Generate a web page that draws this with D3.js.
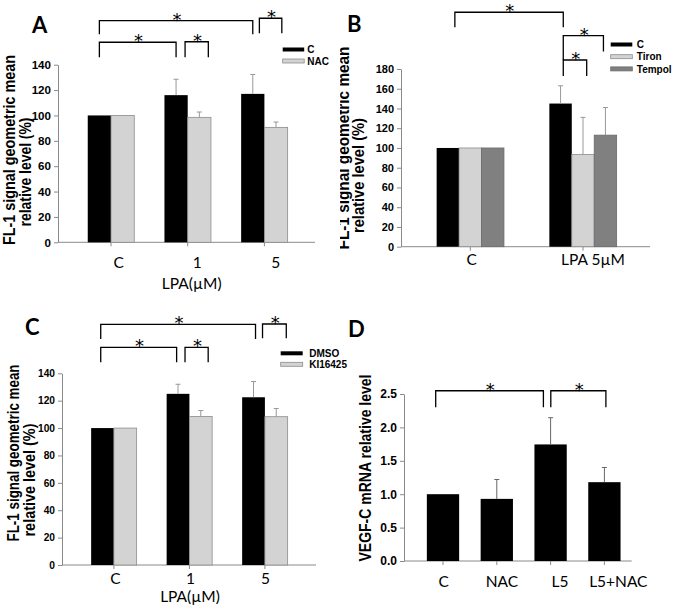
<!DOCTYPE html>
<html><head><meta charset="utf-8">
<script src="https://cdn.jsdelivr.net/npm/d3@7"></script>
<style>body{margin:0;background:#fff}svg{display:block}</style>
</head><body>
<svg id="chart" width="677" height="610"></svg>
<script>
// ---------- DATA ----------
const catsA = ["C", "1", "5"];
const seriesA = ["C", "NAC"];
const valsA_C = [100, 116, 117];
const errA_C = [0, 12.5, 15.3];
const valsA_NAC = [100, 98.5, 90.6];
const errA_NAC = [0, 4.2, 4.2];
const ticksA = [0, 20, 40, 60, 80, 100, 120, 140];

const catsB = ["C", "LPA 5\u00b5M"];
const seriesB = ["C", "Tiron", "Tempol"];
const valsB_C = [100, 145];
const errB_C = [0, 18];
const valsB_Tiron = [100, 93.5];
const errB_Tiron = [0, 37.5];
const valsB_Tempol = [100, 113];
const errB_Tempol = [0, 28];
const ticksB = [0, 20, 40, 60, 80, 100, 120, 140, 160, 180];

const catsC = ["C", "1", "5"];
const seriesC = ["DMSO", "KI16425"];
const valsC_DMSO = [100, 125, 122.5];
const errC_DMSO = [0, 7, 11.5];
const valsC_KI = [100, 108.5, 108.3];
const errC_KI = [0, 4.3, 6];
const ticksC = [0, 20, 40, 60, 80, 100, 120, 140];

const catsD = ["C", "NAC", "L5", "L5+NAC"];
const valsD = [1.0, 0.93, 1.745, 1.18];
const errD = [0, 0.29, 0.40, 0.22];
const ticksD = [0, 0.5, 1.0, 1.5, 2.0, 2.5];

// significance brackets: endpoints as [category, series], heights in data units
const sigA = [
  {a: ["C", "C"], b: ["5", "C"], top: 174.7, legA: 164, legB: 164, dx: [0, 0]},
  {a: ["5", "C"], b: ["5", "NAC"], top: 176.6, legA: 164.7, legB: 164.7, dx: [6.6, 5.8]},
  {a: ["C", "C"], b: ["1", "C"], top: 157.7, legA: 145.8, legB: 145.8, dx: [0, 0]},
  {a: ["1", "C"], b: ["1", "NAC"], top: 158.1, legA: 145.8, legB: 145.8, dx: [9, 9]}
];
const sigB = [
  {a: ["C", "C"], b: ["LPA 5\u00b5M", "C"], top: 237.5, legA: 222.3, legB: 222.3, dx: [7, 2.7]},
  {a: ["LPA 5\u00b5M", "C"], b: ["LPA 5\u00b5M", "Tempol"], top: 213.8, legA: 189.1, legB: 197.6, dx: [2.7, -2]},
  {a: ["LPA 5\u00b5M", "C"], b: ["LPA 5\u00b5M", "Tiron"], top: 189.1, legA: 172.9, legB: 172.9, dx: [2.7, 3.7]}
];
const sigC = [
  {a: ["C", "DMSO"], b: ["5", "DMSO"], top: 175.8, legA: 165, legB: 165, dx: [-1.8, 2]},
  {a: ["5", "DMSO"], b: ["5", "KI16425"], top: 176, legA: 165.6, legB: 165.6, dx: [9, 10]},
  {a: ["C", "DMSO"], b: ["1", "DMSO"], top: 159, legA: 148, legB: 148, dx: [-1.8, -1.4]},
  {a: ["1", "DMSO"], b: ["1", "KI16425"], top: 159, legA: 148, legB: 148, dx: [7, 7.4]}
];
const sigD = [
  {a: ["C", "v"], b: ["L5", "v"], top: 2.549, legA: 2.30, legB: 2.30, dx: [-7.3, -7.2]},
  {a: ["L5", "v"], b: ["L5+NAC", "v"], top: 2.549, legA: 2.30, legB: 2.30, dx: [0.2, 1.5]}
];

// ---------- DRAW ----------
const svg = d3.select("#chart");
svg.append("rect").attr("width", 677).attr("height", 610).attr("fill", "#fff");
svg.append("defs").append("clipPath").attr("id", "clipB")
  .append("rect").attr("x", 340).attr("y", 0).attr("width", 337).attr("height", 300);

const AXIS = "#8a8a8a";
const CAL = "Lato, 'Open Sans', sans-serif";
const ARI = "'Liberation Sans', Arial, sans-serif";

function panel(cfg) {
  const g = svg.append("g");
  if (cfg.clip) g.attr("clip-path", "url(#" + cfg.clip + ")");
  const y = d3.scaleLinear().domain(cfg.yDomain).range(cfg.yRange);
  const x = d3.scaleBand().domain(cfg.cats).range(cfg.xRange).padding(0);
  const xs = d3.scaleBand().domain(cfg.series.map(s => s.name))
    .range([-cfg.groupW / 2, cfg.groupW / 2]).padding(0);
  const cx = (cat, ser) => x(cat) + x.bandwidth() / 2 + xs(ser) + xs.bandwidth() / 2;

  // y axis
  const ya = g.append("g").attr("transform", `translate(${cfg.axisX},0)`)
    .call(d3.axisLeft(y).tickValues(cfg.ticks).tickSize(4).tickSizeOuter(0).tickPadding(3)
      .tickFormat(cfg.fmt));
  ya.select(".domain").attr("stroke", AXIS);
  ya.selectAll(".tick line").attr("stroke", AXIS);
  ya.selectAll(".tick text").attr("fill", "#000").style("font-family", ARI)
    .style("font-weight", "bold").style("font-size", cfg.tickFont + "px");

  // x axis
  const y0 = y(0);
  g.append("line").attr("x1", cfg.axisX).attr("x2", cfg.xEnd).attr("y1", y0).attr("y2", y0)
    .attr("stroke", AXIS).attr("stroke-width", 1);
  const xa = g.append("g").attr("transform", `translate(0,${y0})`)
    .call(d3.axisBottom(x).tickSize(4).tickSizeOuter(0).tickFormat(""));
  xa.select(".domain").remove();
  xa.selectAll(".tick line").attr("stroke", AXIS);

  // bars
  cfg.series.forEach(s => {
    const bars = g.append("g");
    bars.selectAll("rect").data(cfg.cats.map((c, i) => ({c, v: s.values[i]})))
      .join("rect")
      .attr("x", d => x(d.c) + x.bandwidth() / 2 + xs(s.name))
      .attr("width", xs.bandwidth())
      .attr("y", d => y(d.v)).attr("height", d => y0 - y(d.v))
      .attr("fill", s.color).attr("stroke", s.stroke || "none").attr("stroke-width", 0.8);
  });
  // error bars
  cfg.series.forEach(s => {
    cfg.cats.forEach((c, i) => {
      const e = s.errors[i];
      if (!e) return;
      const xc = cx(c, s.name);
      const yt = y(s.values[i] + e), yb = y(s.values[i]);
      g.append("line").attr("x1", xc).attr("x2", xc).attr("y1", yb).attr("y2", yt)
        .attr("stroke", cfg.errColor).attr("stroke-width", 1);
      g.append("line").attr("x1", xc - 2.5).attr("x2", xc + 2.5).attr("y1", yt).attr("y2", yt)
        .attr("stroke", cfg.errColor).attr("stroke-width", 1);
    });
  });

  // category labels
  const lx = d3.scalePoint().domain(cfg.cats).range(cfg.labelRange);
  g.selectAll("text.cat").data(cfg.cats).join("text").attr("class", "cat")
    .attr("x", d => lx(d)).attr("y", cfg.labelY).attr("text-anchor", "middle")
    .style("font-family", CAL).style("font-size", "15.5px").text(d => d);
  if (cfg.xTitle) {
    g.append("text").attr("x", cfg.xTitle.x).attr("y", cfg.xTitle.y).attr("text-anchor", "middle")
      .style("font-family", CAL).style("font-size", "15.5px").text(cfg.xTitle.text);
  }

  // y title lines
  cfg.yTitle.forEach(t => {
    g.append("text").attr("transform", `translate(${t.x},${t.y}) rotate(-90)`)
      .attr("text-anchor", "middle").attr("textLength", t.len).attr("lengthAdjust", "spacingAndGlyphs")
      .style("font-family", ARI).style("font-weight", "bold").style("font-size", "16px").text(t.text);
  });

  // panel letter
  g.append("text").attr("x", cfg.letter.x).attr("y", cfg.letter.y)
    .style("font-family", CAL).style("font-weight", "bold").style("font-size", "22px").text(cfg.letter.text);

  // legend
  if (cfg.legend) {
    cfg.series.forEach((s, i) => {
      const ly = cfg.legend.y + i * cfg.legend.dy;
      g.append("rect").attr("x", cfg.legend.x).attr("y", ly - 2).attr("width", cfg.legend.w).attr("height", 4)
        .attr("fill", s.color).attr("stroke", s.stroke || "none").attr("stroke-width", 0.8);
      g.append("text").attr("x", cfg.legend.x + cfg.legend.w + cfg.legend.gap).attr("y", ly + 3.6)
        .style("font-family", ARI).style("font-weight", "bold").style("font-size", "10px").text(s.name);
    });
  }

  // significance brackets
  cfg.sig.forEach(b => {
    const x1 = cx(b.a[0], b.a[1]) + b.dx[0];
    const x2 = cx(b.b[0], b.b[1]) + b.dx[1];
    const yt = y(b.top);
    g.append("path")
      .attr("d", `M${x1},${y(b.legA)}V${yt}H${x2}V${y(b.legB)}`)
      .attr("fill", "none").attr("stroke", "#000").attr("stroke-width", 1.3);
    g.append("text").attr("x", (x1 + x2) / 2 + 0.8).attr("y", yt + 5.2).attr("text-anchor", "middle")
      .attr("fill", "#000")
      .style("font-family", "'DejaVu Sans', sans-serif").style("font-size", "18px").text("*");
  });
}

const GREY = "#d3d3d3", GSTROKE = "#8c8c8c", DARK = "#808080";

panel({
  cats: catsA,
  series: [
    {name: seriesA[0], values: valsA_C, errors: errA_C, color: "#000"},
    {name: seriesA[1], values: valsA_NAC, errors: errA_NAC, color: GREY, stroke: GSTROKE}
  ],
  yDomain: [0, 140], yRange: [242.3, 64.7], ticks: ticksA, fmt: d3.format("d"), tickFont: 11.6,
  axisX: 58, xEnd: 315, xRange: [72.65, 302.75], groupW: 46.5, errColor: "#999",
  labelRange: [118.7, 275.8], labelY: 268,
  xTitle: {x: 191.7, y: 288.5, text: "LPA(\u00b5M)"},
  yTitle: [
    {x: 15, y: 150, len: 190, text: "FL-1 signal geometric mean"},
    {x: 31, y: 172, len: 109, text: "relative level (%)"}
  ],
  letter: {x: 32, y: 33, text: "A"},
  legend: {x: 282.7, y: 49.5, dy: 11.5, w: 21.5, gap: 3},
  sig: sigA
});

panel({
  clip: "clipB",
  cats: catsB,
  series: [
    {name: seriesB[0], values: valsB_C, errors: errB_C, color: "#000"},
    {name: seriesB[1], values: valsB_Tiron, errors: errB_Tiron, color: GREY, stroke: GSTROKE},
    {name: seriesB[2], values: valsB_Tempol, errors: errB_Tempol, color: DARK, stroke: "#6a6a6a"}
  ],
  yDomain: [0, 180], yRange: [246.7, 69], ticks: ticksB, fmt: d3.format("d"), tickFont: 11,
  axisX: 401, xEnd: 650, xRange: [413.95, 639.35], groupW: 67.3, errColor: "#999",
  labelRange: [471.7, 593], labelY: 265,
  yTitle: [
    {x: 348.5, y: 148, len: 203, text: "FL-1 signal geometric mean"},
    {x: 363.5, y: 175.5, len: 115, text: "relative level (%)"}
  ],
  letter: {x: 347, y: 32, text: "B"},
  legend: {x: 610.7, y: 44.5, dy: 12.2, w: 21.6, gap: 4.5},
  sig: sigB
});

panel({
  cats: catsC,
  series: [
    {name: seriesC[0], values: valsC_DMSO, errors: errC_DMSO, color: "#000"},
    {name: seriesC[1], values: valsC_KI, errors: errC_KI, color: GREY, stroke: GSTROKE}
  ],
  yDomain: [0, 140], yRange: [565, 373.3], ticks: ticksC, fmt: d3.format("d"), tickFont: 10.2,
  axisX: 62, xEnd: 316, xRange: [76.15, 302.65], groupW: 45.5, errColor: "#999",
  labelRange: [115.5, 265.5], labelY: 584.3,
  xTitle: {x: 190, y: 601.7, text: "LPA(\u00b5M)"},
  yTitle: [
    {x: 19, y: 453, len: 177, text: "FL-1 signal geometric mean"},
    {x: 34.5, y: 480, len: 113, text: "relative level (%)"}
  ],
  letter: {x: 25, y: 335, text: "C"},
  legend: {x: 280.7, y: 353.3, dy: 11, w: 22, gap: 6.5},
  sig: sigC
});

panel({
  cats: catsD,
  series: [{name: "v", values: valsD, errors: errD, color: "#000"}],
  yDomain: [0, 2.5], yRange: [561, 394], ticks: ticksD, fmt: d3.format(".1f"), tickFont: 12,
  axisX: 404, xEnd: 631.7, xRange: [416.1, 631.3], groupW: 32.3, errColor: "#666",
  labelRange: [443.7, 618.3], labelY: 587.3,
  yTitle: [
    {x: 370.5, y: 468, len: 187, text: "VEGF-C mRNA relative level"}
  ],
  letter: {x: 348, y: 337, text: "D"},
  sig: sigD
});
</script>
</body></html>
